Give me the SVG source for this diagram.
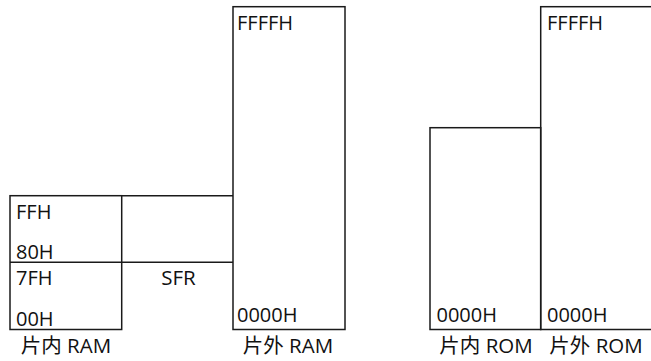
<svg xmlns="http://www.w3.org/2000/svg" width="651" height="361" viewBox="0 0 651 361">
<style>
.box{fill:none;stroke:#1a1a1a;stroke-width:1.5}
.t{font-family:"Open Sans","Noto Sans CJK SC",sans-serif;font-size:20px;fill:#111}
.c{font-family:"Open Sans","Noto Sans CJK SC",sans-serif;font-size:20.5px;fill:#111;text-anchor:middle}
</style>
<rect x="0" y="0" width="651" height="361" fill="#fff"/>
<g id="internal-ram">
<rect class="box" x="10" y="195.7" width="111.7" height="133.8"/>
<text class="t" x="16" y="218.5">FFH</text>
<text class="t" x="16" y="258.5">80H</text>
<text class="t" x="16" y="285">7FH</text>
<text class="t" x="16" y="325.7">00H</text>
<text class="c" x="66" y="352.5">片内 RAM</text>
</g>
<g id="sfr">
<polyline class="box" points="121.7,195.7 233,195.7"/>
<text class="c" x="178.5" y="285">SFR</text>
</g>
<g id="external-ram">
<rect class="box" x="233" y="6.7" width="112" height="322.8"/>
<text class="t" x="237" y="29.5">FFFFH</text>
<text class="t" x="237" y="322.3">0000H</text>
<text class="c" x="288" y="352.5">片外 RAM</text>
</g>
<g id="internal-rom">
<rect class="box" x="430" y="127.7" width="110.7" height="201.8"/>
<text class="t" x="436.5" y="322.3">0000H</text>
<text class="c" x="486" y="352.5">片内 ROM</text>
</g>
<g id="external-rom">
<rect class="box" x="540.7" y="6.7" width="115" height="322.8"/>
<text class="t" x="547" y="29.5">FFFFH</text>
<text class="t" x="547" y="322.3">0000H</text>
<text class="c" x="596" y="352.5">片外 ROM</text>
</g>
<g id="connectors">
<line class="box" x1="10" y1="262.3" x2="233" y2="262.3"/>
</g>
</svg>
